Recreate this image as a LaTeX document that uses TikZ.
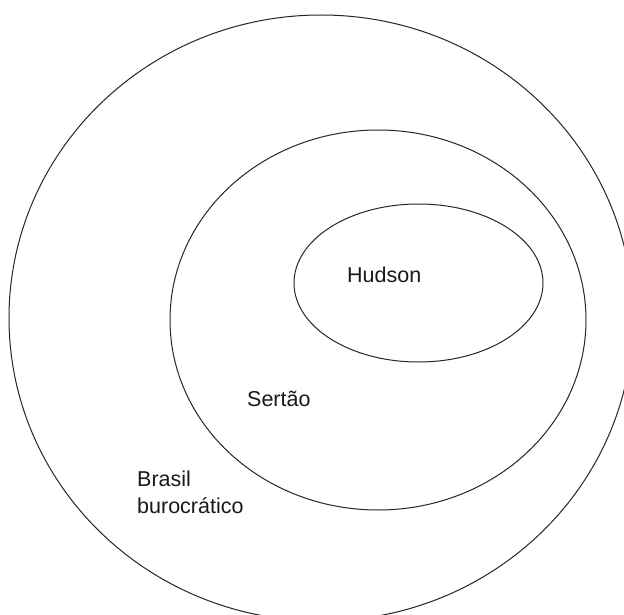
\documentclass[tikz,border=0pt]{standalone}
\usepackage{fontspec}
\setmainfont{Liberation Sans}
\begin{document}
\begin{tikzpicture}[x=1pt,y=-1pt,
  ring/.style={draw=black!85,line width=1pt},
  lbl/.style={inner sep=0pt,font=\fontsize{21.5}{26.6}\selectfont,text=black!90}]
\useasboundingbox (0,0) rectangle (624,615);
\clip (0,0) rectangle (624,615);
\fill[white] (0,0) rectangle (624,615);
\draw[ring] (321,318) ellipse [x radius=312, y radius=303];
\draw[ring] (378,320) ellipse [x radius=208, y radius=190];
\draw[ring] (418.5,283) ellipse [x radius=124.5, y radius=79];
\node[lbl,anchor=base west] (hudson) at (347,282) {Hudson};
\node[lbl,anchor=base west] (sertao) at (247,406) {Sertão};
\node[lbl,anchor=base west,align=left] (brasil) at (137,513) {Brasil\\burocrático};
\end{tikzpicture}
\end{document}
